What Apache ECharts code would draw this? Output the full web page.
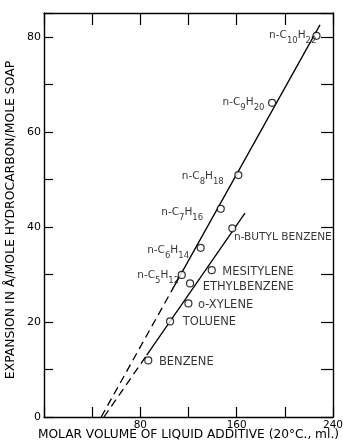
<!DOCTYPE html>
<html>
<head>
<meta charset="utf-8">
<script src="https://cdn.jsdelivr.net/npm/echarts@6/dist/echarts.min.js"></script>
<style>
  html, body { margin: 0; padding: 0; background: #fff; }
  #chart { width: 343px; height: 443px; }
</style>
</head>
<body>
<div id="chart"></div>
<script>
// n-Alkanes: formula counts, molar volume (ml, 20 °C) and expansion (Å per mole hydrocarbon per mole soap)
const alkaneC = [5, 6, 7, 8, 9, 10];
const alkaneH = [12, 14, 16, 18, 20, 22];
const alkaneVolume = [114.4, 130.1, 146.8, 161.4, 189.4, 226.3];
const alkaneExpansion = [29.9, 35.6, 43.8, 50.9, 66.1, 80.2];

// Aromatic hydrocarbons
const aromaticNames = ['BENZENE', 'TOLUENE', 'o-XYLENE', 'ETHYLBENZENE', 'MESITYLENE', 'n-BUTYL BENZENE'];
const aromaticVolume = [86.6, 104.7, 119.9, 121.3, 139.3, 156.4];
const aromaticExpansion = [11.9, 20.1, 23.9, 28.1, 30.9, 39.7];

// Straight-line fits: dashed extrapolation down to zero expansion, solid over the measured range
const alkaneFitDashed = [[47.5, 0], [106.3, 26.7]];
const alkaneFitSolid = [[106.3, 26.7], [229.2, 82.5]];
const aromaticFitDashed = [[49.8, 0], [85.3, 13.0]];
const aromaticFitSolid = [[85.3, 13.0], [166.9, 42.9]];

// Axis ranges, tick spacing and labelled values
const xMin = 0, xMax = 240, xStep = 40, xLabelStep = 80;
const yMin = 0, yMax = 85, yStep = 10, yLabelStep = 20;

const xTitle = 'MOLAR VOLUME OF LIQUID ADDITIVE (20°C., ml.)';
const yTitle = 'EXPANSION IN Å/MOLE HYDROCARBON/MOLE SOAP';

// ---- styling ----
const FONT = 'DejaVu Sans';
const INK = '#000';
const frameLine = { color: INK, width: 1.4 };

// label nudges (px) for each point, [dx, dy]
const alkaneLabelShift = [[1.5, 2.5], [-7.5, 4.5], [-13.5, 5.5], [-10.5, 3.5], [-3.5, 1.5], [4, 1.5]];
const aromaticLabelShift = [[6.5, 2], [8.5, 1], [5.5, 2], [8.5, 4], [6.5, 2], [-2.5, 9]];

const chart = echarts.init(document.getElementById('chart'), null, { renderer: 'canvas' });

function valueAxis(extra) {
  return Object.assign({
    type: 'value',
    splitLine: { show: false },
    axisLine: { show: true, onZero: false, lineStyle: frameLine },
    axisTick: { show: true, inside: true, length: 9, lineStyle: { color: INK, width: 1.2 } }
  }, extra);
}

const alkaneData = alkaneVolume.map((v, i) => ({
  value: [v, alkaneExpansion[i]],
  label: {
    formatter: '{m|n-C}{s|' + alkaneC[i] + '}{m|H}{s|' + alkaneH[i] + '}',
    offset: alkaneLabelShift[i]
  }
}));

const aromaticData = aromaticVolume.map((v, i) => ({
  value: [v, aromaticExpansion[i]],
  label: {
    formatter: aromaticNames[i],
    offset: aromaticLabelShift[i],
    fontSize: aromaticNames[i].length > 13 ? 10.6 : 11.5
  }
}));

const fitLine = (data, dashed) => ({
  type: 'line',
  data: data,
  symbol: 'none',
  silent: true,
  lineStyle: { color: INK, width: 1.3, type: dashed ? [8, 5] : 'solid' },
  z: 2
});

const pointStyle = { color: '#fff', borderColor: INK, borderWidth: 1.2 };

chart.setOption({
  animation: false,
  backgroundColor: '#fff',
  grid: { left: 44, right: 10, top: 13, bottom: 26, containLabel: false, outerBoundsMode: 'none' },
  xAxis: [
    valueAxis({
      min: xMin, max: xMax, interval: xStep, position: 'bottom',
      axisTick: { show: true, inside: true, length: 10, lineStyle: { color: INK, width: 1.2 } },
      axisLabel: {
        margin: 3, color: INK, fontFamily: FONT, fontSize: 10.5,
        formatter: v => (v > 0 && v % xLabelStep === 0) ? String(v) : ''
      },
      name: xTitle, nameLocation: 'middle', nameGap: 12, nameMoveOverlap: false,
      nameTextStyle: { color: INK, fontFamily: FONT, fontSize: 12.2 }
    }),
    valueAxis({
      min: xMin, max: xMax, interval: xStep, position: 'top',
      axisTick: { show: true, inside: true, length: 12, lineStyle: { color: INK, width: 1.2 } },
      axisLabel: { show: false }
    })
  ],
  yAxis: [
    valueAxis({
      min: yMin, max: yMax, interval: yStep, position: 'left',
      axisLabel: {
        margin: 3, color: INK, fontFamily: FONT, fontSize: 11,
        formatter: v => (v % yLabelStep === 0) ? String(v) : ''
      },
      name: yTitle, nameLocation: 'middle', nameGap: 27, nameRotate: 90, nameMoveOverlap: false,
      nameTextStyle: { color: INK, fontFamily: FONT, fontSize: 12.4, padding: [0, 10, 0, 0] }
    }),
    valueAxis({
      min: yMin, max: yMax, interval: yStep, position: 'right',
      axisTick: { show: true, inside: true, length: 12, lineStyle: { color: INK, width: 1.2 } },
      axisLabel: { show: false }
    })
  ],
  series: [
    fitLine(alkaneFitDashed, true),
    fitLine(alkaneFitSolid, false),
    fitLine(aromaticFitDashed, true),
    fitLine(aromaticFitSolid, false),
    {
      type: 'scatter',
      data: alkaneData,
      symbol: 'circle',
      symbolSize: 7,
      itemStyle: pointStyle,
      z: 3,
      label: {
        show: true,
        position: 'left',
        distance: 0,
        color: INK,
        rich: {
          m: { fontFamily: FONT, fontSize: 10.5, color: INK, verticalAlign: 'top' },
          s: { fontFamily: FONT, fontSize: 8.5, color: INK, verticalAlign: 'bottom', lineHeight: 16 }
        }
      }
    },
    {
      type: 'scatter',
      data: aromaticData,
      symbol: 'circle',
      symbolSize: 7,
      itemStyle: pointStyle,
      z: 3,
      label: {
        show: true,
        position: 'right',
        distance: 0,
        color: INK,
        fontFamily: FONT,
        fontSize: 11.5
      }
    }
  ]
});
</script>
</body>
</html>
